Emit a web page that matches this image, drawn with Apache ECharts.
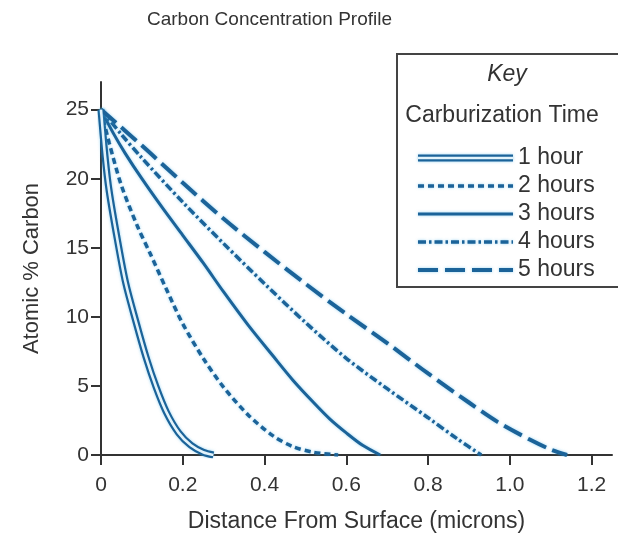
<!DOCTYPE html>
<html>
<head>
<meta charset="utf-8">
<script src="https://cdn.jsdelivr.net/npm/echarts@6/dist/echarts.min.js"></script>
<style>
  html, body { margin: 0; padding: 0; background: #fff; }
  #chart { width: 618px; height: 543px; }
</style>
</head>
<body>
<div id="chart"></div>
<script>
// values: [distance (microns), atomic % carbon]
var seriesNames = ['1 hour', '2 hours', '3 hours', '4 hours', '5 hours'];
var hour1 = [[0,25],[0.01,21.6],[0.02,19.1],[0.04,15.6],[0.06,12.5],[0.085,9.7],[0.11,7.1],[0.135,4.9],[0.16,3.1],[0.19,1.6],[0.22,0.7],[0.25,0.2],[0.275,0]];
var hour2 = [[0,25],[0.02,22.6],[0.05,19.5],[0.09,16.5],[0.12,14.6],[0.16,12],[0.2,9.5],[0.25,7],[0.3,4.9],[0.36,2.9],[0.42,1.4],[0.47,0.6],[0.52,0.2],[0.58,0]];
var hour3 = [[0,25],[0.03,23.3],[0.06,21.8],[0.1,20],[0.15,17.9],[0.2,15.9],[0.25,13.9],[0.3,11.8],[0.36,9.4],[0.42,7.2],[0.47,5.4],[0.52,3.8],[0.56,2.6],[0.6,1.6],[0.64,0.7],[0.683,0]];
var hour4 = [[0,25],[0.05,23.2],[0.1,21.5],[0.2,18.3],[0.3,15.3],[0.4,12.4],[0.5,9.6],[0.6,7],[0.7,4.8],[0.8,2.7],[0.87,1.2],[0.93,0]];
var hour5 = [[0,25],[0.1,22.4],[0.2,19.7],[0.3,17.1],[0.4,14.7],[0.5,12.4],[0.6,10.2],[0.7,8.1],[0.8,5.9],[0.9,3.8],[0.97,2.4],[1.05,1.1],[1.1,0.4],[1.14,0]];
var seriesData = [hour1, hour2, hour3, hour4, hour5];

var xTicks = [0, 0.2, 0.4, 0.6, 0.8, 1.0, 1.2];
var xTickLabels = ['0', '0.2', '0.4', '0.6', '0.8', '1.0', '1.2'];
var yTicks = [0, 5, 10, 15, 20, 25];

var blue = '#1b6399';
var glow = 'rgba(70,175,230,0.55)';
var core = '#e2f3fb';
var textColor = '#333';
var font = '"Liberation Sans", Arial, sans-serif';

// line style per carburization time
var lineStyles = [
  { width: 7, dash: null },          // double line (light core drawn on top)
  { width: 3.5, dash: [6, 4] },
  { width: 3, dash: null },
  { width: 3.5, dash: [8, 3, 2.5, 3] },
  { width: 4, dash: [20, 7] }
];

var chart = echarts.init(document.getElementById('chart'));

var series = seriesData.map(function (d, i) {
  return {
    name: seriesNames[i],
    type: 'line',
    data: d,
    smooth: 0.3,
    showSymbol: false,
    silent: true,
    lineStyle: {
      color: blue, width: lineStyles[i].width, type: lineStyles[i].dash || 'solid', cap: 'butt',
      shadowColor: glow, shadowBlur: 3
    }
  };
});
// light core of the 1 hour double line
series.push({
  name: '1 hour core',
  type: 'line',
  data: hour1,
  smooth: 0.3,
  showSymbol: false,
  silent: true,
  z: 3,
  lineStyle: { color: core, width: 2.6 }
});

// key box
var key = [
  { type: 'rect', shape: { x: 397, y: 54, width: 222, height: 233 }, style: { fill: '#fff', stroke: '#444', lineWidth: 2 } },
  { type: 'text', x: 507, y: 75, style: { text: 'Key', fontSize: 23, fontStyle: 'italic', fontFamily: font, fill: textColor, align: 'center', verticalAlign: 'middle' } },
  { type: 'text', x: 502, y: 116, style: { text: 'Carburization Time', fontSize: 23, fontFamily: font, fill: textColor, align: 'center', verticalAlign: 'middle' } }
];
seriesNames.forEach(function (n, i) {
  var y = 158 + i * 28;
  key.push({ type: 'line', shape: { x1: 418, y1: y, x2: 513, y2: y },
    style: { stroke: blue, lineWidth: lineStyles[i].width, lineDash: lineStyles[i].dash, shadowColor: glow, shadowBlur: 3 } });
  if (i === 0) {
    key.push({ type: 'line', shape: { x1: 418, y1: y, x2: 513, y2: y }, style: { stroke: core, lineWidth: 2.6 } });
  }
  key.push({ type: 'text', x: 518, y: y, style: { text: n, fontSize: 23, fontFamily: font, fill: textColor, align: 'left', verticalAlign: 'middle' } });
});

chart.setOption({
  animation: false,
  title: {
    text: 'Carbon Concentration Profile',
    left: 142,
    top: 5,
    textStyle: { fontSize: 19, fontWeight: 'normal', color: textColor, fontFamily: font }
  },
  grid: { left: 101, right: 6, top: 82, bottom: 88, outerBoundsMode: 'none' },
  xAxis: {
    type: 'value',
    min: 0,
    max: 1.25,
    name: 'Distance From Surface (microns)',
    nameLocation: 'middle',
    nameGap: 55,
    nameTextStyle: { fontSize: 23, color: textColor, fontFamily: font },
    splitLine: { show: false },
    axisLine: { lineStyle: { color: '#333', width: 2 } },
    axisTick: { length: 10, customValues: xTicks, lineStyle: { color: '#333', width: 2 } },
    axisLabel: {
      customValues: xTicks,
      margin: 20,
      fontSize: 21,
      color: textColor,
      fontFamily: font,
      formatter: function (v) { return xTickLabels[xTicks.indexOf(v)]; }
    }
  },
  yAxis: {
    type: 'value',
    min: 0,
    max: 27,
    name: 'Atomic % Carbon',
    nameLocation: 'middle',
    nameGap: 58,
    nameTextStyle: { fontSize: 22, color: textColor, fontFamily: font },
    splitLine: { show: false },
    axisLine: { show: true, lineStyle: { color: '#333', width: 2 } },
    axisTick: { show: true, length: 10, customValues: yTicks, lineStyle: { color: '#333', width: 2 } },
    axisLabel: { customValues: yTicks, margin: 12, fontSize: 21, color: textColor, fontFamily: font }
  },
  graphic: key,
  series: series
});

window.onresize = function () {
  chart.resize();
};
</script>
</body>
</html>
